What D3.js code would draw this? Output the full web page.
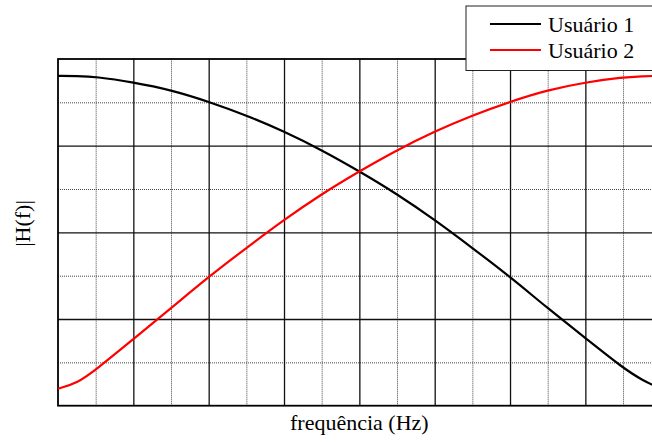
<!DOCTYPE html>
<html>
<head>
<meta charset="utf-8">
<script src="https://cdn.jsdelivr.net/npm/d3@7"></script>
<style>
  body { margin: 0; background: #fff; }
  svg { display: block; font-family: "Liberation Serif", "Times New Roman", serif; }
</style>
</head>
<body>
<div id="chart"></div>
<script>
// Values (no tick labels are shown, units are grid cells).
const freq = [0, 0.25, 0.5, 1, 1.5, 2, 2.5, 3, 3.5, 4, 4.5, 5, 5.5, 6, 6.5, 7, 7.5, 7.75, 8];
const usuario1 = [3.806, 3.803, 3.796, 3.731, 3.643, 3.508, 3.350, 3.165, 2.950, 2.705,
                  2.443, 2.145, 1.820, 1.488, 1.124, 0.781, 0.435, 0.297, 0.196];
const usuario2 = [0.196, 0.258, 0.412, 0.768, 1.124, 1.488, 1.820, 2.145, 2.443, 2.705,
                  2.950, 3.165, 3.350, 3.508, 3.643, 3.731, 3.789, 3.800, 3.808];
const seriesNames = ['Usuário 1', 'Usuário 2'];
const seriesColors = ['#000000', '#ff0000'];
const xLabel = 'frequência (Hz)';
const yLabel = '|H(f)|';

const width = 652, height = 443;
const margin = { left: 58, top: 59 };
const plotW = 602.7, plotH = 346.7;

const svg = d3.select('#chart')
    .append('svg')
    .attr('width', width)
    .attr('height', height);

const x = d3.scaleLinear().domain([0, 8]).range([margin.left, margin.left + plotW]);
const y = d3.scaleLinear().domain([0, 4]).range([margin.top + plotH, margin.top]);

const grid = svg.append('g').classed('grid', true);

// Minor (dotted) grid lines.
grid.append('g')
    .attr('transform', `translate(0,${margin.top + plotH})`)
    .call(d3.axisBottom(x).tickValues(d3.range(0.5, 8, 1)).tickSize(-plotH).tickFormat(''))
    .call(g => g.select('.domain').remove())
    .selectAll('line')
    .attr('stroke', '#444')
    .attr('stroke-width', 1)
    .attr('stroke-dasharray', '1,1');

grid.append('g')
    .attr('transform', `translate(${margin.left},0)`)
    .call(d3.axisLeft(y).tickValues(d3.range(0.5, 4, 1)).tickSize(-plotW).tickFormat(''))
    .call(g => g.select('.domain').remove())
    .selectAll('line')
    .attr('stroke', '#444')
    .attr('stroke-width', 1)
    .attr('stroke-dasharray', '1,1');

// Major (solid) grid lines.
grid.append('g')
    .attr('transform', `translate(0,${margin.top + plotH})`)
    .call(d3.axisBottom(x).tickValues(d3.range(1, 8, 1)).tickSize(-plotH).tickFormat(''))
    .call(g => g.select('.domain').remove())
    .selectAll('line')
    .attr('stroke', '#111')
    .attr('stroke-width', 1.3);

grid.append('g')
    .attr('transform', `translate(${margin.left},0)`)
    .call(d3.axisLeft(y).tickValues(d3.range(1, 4, 1)).tickSize(-plotW).tickFormat(''))
    .call(g => g.select('.domain').remove())
    .selectAll('line')
    .attr('stroke', '#111')
    .attr('stroke-width', 1.3);

// Frame.
svg.append('rect')
    .attr('x', margin.left)
    .attr('y', margin.top)
    .attr('width', plotW)
    .attr('height', plotH)
    .attr('fill', 'none')
    .attr('stroke', '#000')
    .attr('stroke-width', 1.8);

// Curves.
const line = d3.line().curve(d3.curveBasis);
[usuario1, usuario2].forEach((vals, i) => {
    svg.append('path')
        .attr('d', line(freq.map((f, j) => [x(f), y(vals[j])])))
        .attr('fill', 'none')
        .attr('stroke', seriesColors[i])
        .attr('stroke-width', 2.2);
});

// Axis titles.
svg.append('text')
    .attr('x', x(4))
    .attr('y', 430)
    .attr('text-anchor', 'middle')
    .attr('font-size', 22)
    .text(xLabel);

svg.append('text')
    .attr('transform', 'translate(30,223.5) rotate(-90)')
    .attr('text-anchor', 'middle')
    .attr('font-size', 22)
    .text(yLabel);

// Legend.
const legend = svg.append('g').classed('legend', true);
legend.append('rect')
    .attr('x', 466)
    .attr('y', 6)
    .attr('width', 200)
    .attr('height', 64.5)
    .attr('fill', '#fff')
    .attr('stroke', '#222')
    .attr('stroke-width', 1);

seriesNames.forEach((name, i) => {
    const ly = 24 + i * 26;
    legend.append('line')
        .attr('x1', 490).attr('x2', 541)
        .attr('y1', ly).attr('y2', ly)
        .attr('stroke', seriesColors[i])
        .attr('stroke-width', 2);
    legend.append('text')
        .attr('x', 548)
        .attr('y', ly + 7.5)
        .attr('font-size', 22)
        .text(name);
});
</script>
</body>
</html>
